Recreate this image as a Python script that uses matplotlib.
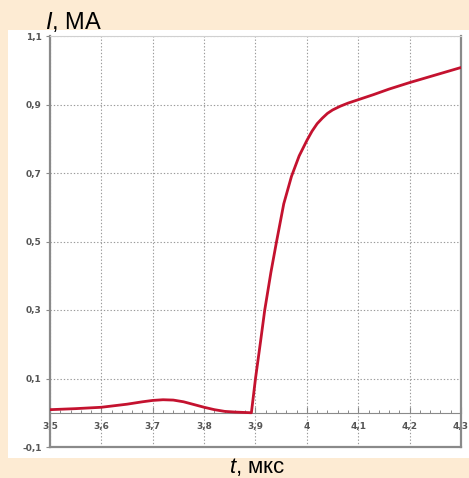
import numpy as np
import matplotlib.pyplot as plt
from matplotlib.patches import Rectangle
from matplotlib.ticker import MultipleLocator, FuncFormatter

# current pulse
t_us = [3.50, 3.55, 3.60, 3.65, 3.68, 3.70, 3.72, 3.74, 3.76, 3.78, 3.80, 3.82,
        3.84, 3.86, 3.892,
        3.900, 3.910, 3.918, 3.930, 3.941, 3.955, 3.970, 3.985, 4.000, 4.010,
        4.020, 4.030, 4.040, 4.050, 4.065, 4.080, 4.100, 4.130, 4.160, 4.200,
        4.250, 4.300]
I_MA = [0.009, 0.012, 0.016, 0.025, 0.032, 0.036, 0.038, 0.037, 0.032, 0.024, 0.016, 0.009,
        0.004, 0.002, 0.0,
        0.10, 0.21, 0.30, 0.41, 0.50, 0.61, 0.69, 0.75, 0.795, 0.822,
        0.844, 0.860, 0.874, 0.884, 0.895, 0.904, 0.914, 0.929, 0.945, 0.964,
        0.986, 1.008]

x_ticks = np.round(np.arange(3.5, 4.31, 0.1), 1)
y_ticks = np.round(np.arange(-0.1, 1.11, 0.2), 1)

plt.rcParams['mathtext.fontset'] = 'custom'
plt.rcParams['mathtext.it'] = 'Liberation Sans:italic'
plt.rcParams['mathtext.rm'] = 'Liberation Sans'

fig = plt.figure(figsize=(4.69, 4.78), dpi=100, facecolor='#fdebd3')
# white panel behind the plot
fig.patches.append(Rectangle((8 / 469, 1 - 458 / 478), 1, (458 - 30) / 478,
                             transform=fig.transFigure, facecolor='white',
                             edgecolor='none', zorder=-5))

ax = fig.add_axes([50 / 469, 1 - 447 / 478, 411 / 469, 411 / 478])
ax.set_facecolor('white')
ax.set_xlim(3.5, 4.3)
ax.set_ylim(-0.1, 1.1)

ax.plot(t_us, I_MA, color='#c4122f', lw=2, zorder=4,
        solid_capstyle='round', solid_joinstyle='round')

comma = FuncFormatter(lambda v, p: ('%g' % round(v, 1)).replace('.', ','))
ax.set_xticks(x_ticks)
ax.set_yticks(y_ticks)
ax.xaxis.set_major_formatter(comma)
ax.yaxis.set_major_formatter(comma)
ax.xaxis.set_minor_locator(MultipleLocator(0.02))

# x axis drawn along I = 0, frame line at the bottom
ax.spines['bottom'].set_position(('data', 0))
ax.spines['bottom'].set_color('#8a8a8a')
ax.axhline(-0.1, color='#8a8a8a', lw=1.6, zorder=3, clip_on=False)
for s in ['left', 'right']:
    ax.spines[s].set_color('#8a8a8a')
    ax.spines[s].set_linewidth(1.6)
ax.spines['top'].set_color('#d0d0d0')

ax.tick_params(axis='x', which='major', direction='in', length=4, width=0.8,
               color='#8a8a8a', pad=7, labelsize=6.5, labelcolor='#555555')
ax.tick_params(axis='x', which='minor', direction='in', length=2.5, width=0.7,
               color='#8a8a8a')
ax.tick_params(axis='y', direction='out', length=3, width=0.8, color='#8a8a8a',
               pad=3, labelsize=6.5, labelcolor='#555555')
for lab in ax.get_xticklabels() + ax.get_yticklabels():
    lab.set_fontweight('bold')

ax.grid(True, which='major', color='#9a9a9a', lw=0.8, ls=(0, (1.2, 1.8)))

fig.text(45 / 469, 1 - 29 / 478, r'$\it{I}$, МА', fontsize=17,
         family='Liberation Sans', ha='left', va='baseline')
fig.text(257 / 469, 1 - 473 / 478, r'$\it{t}$, мкс', fontsize=16,
         family='Liberation Sans', ha='center', va='baseline')

fig.savefig('out.png', dpi=100, facecolor=fig.get_facecolor())
